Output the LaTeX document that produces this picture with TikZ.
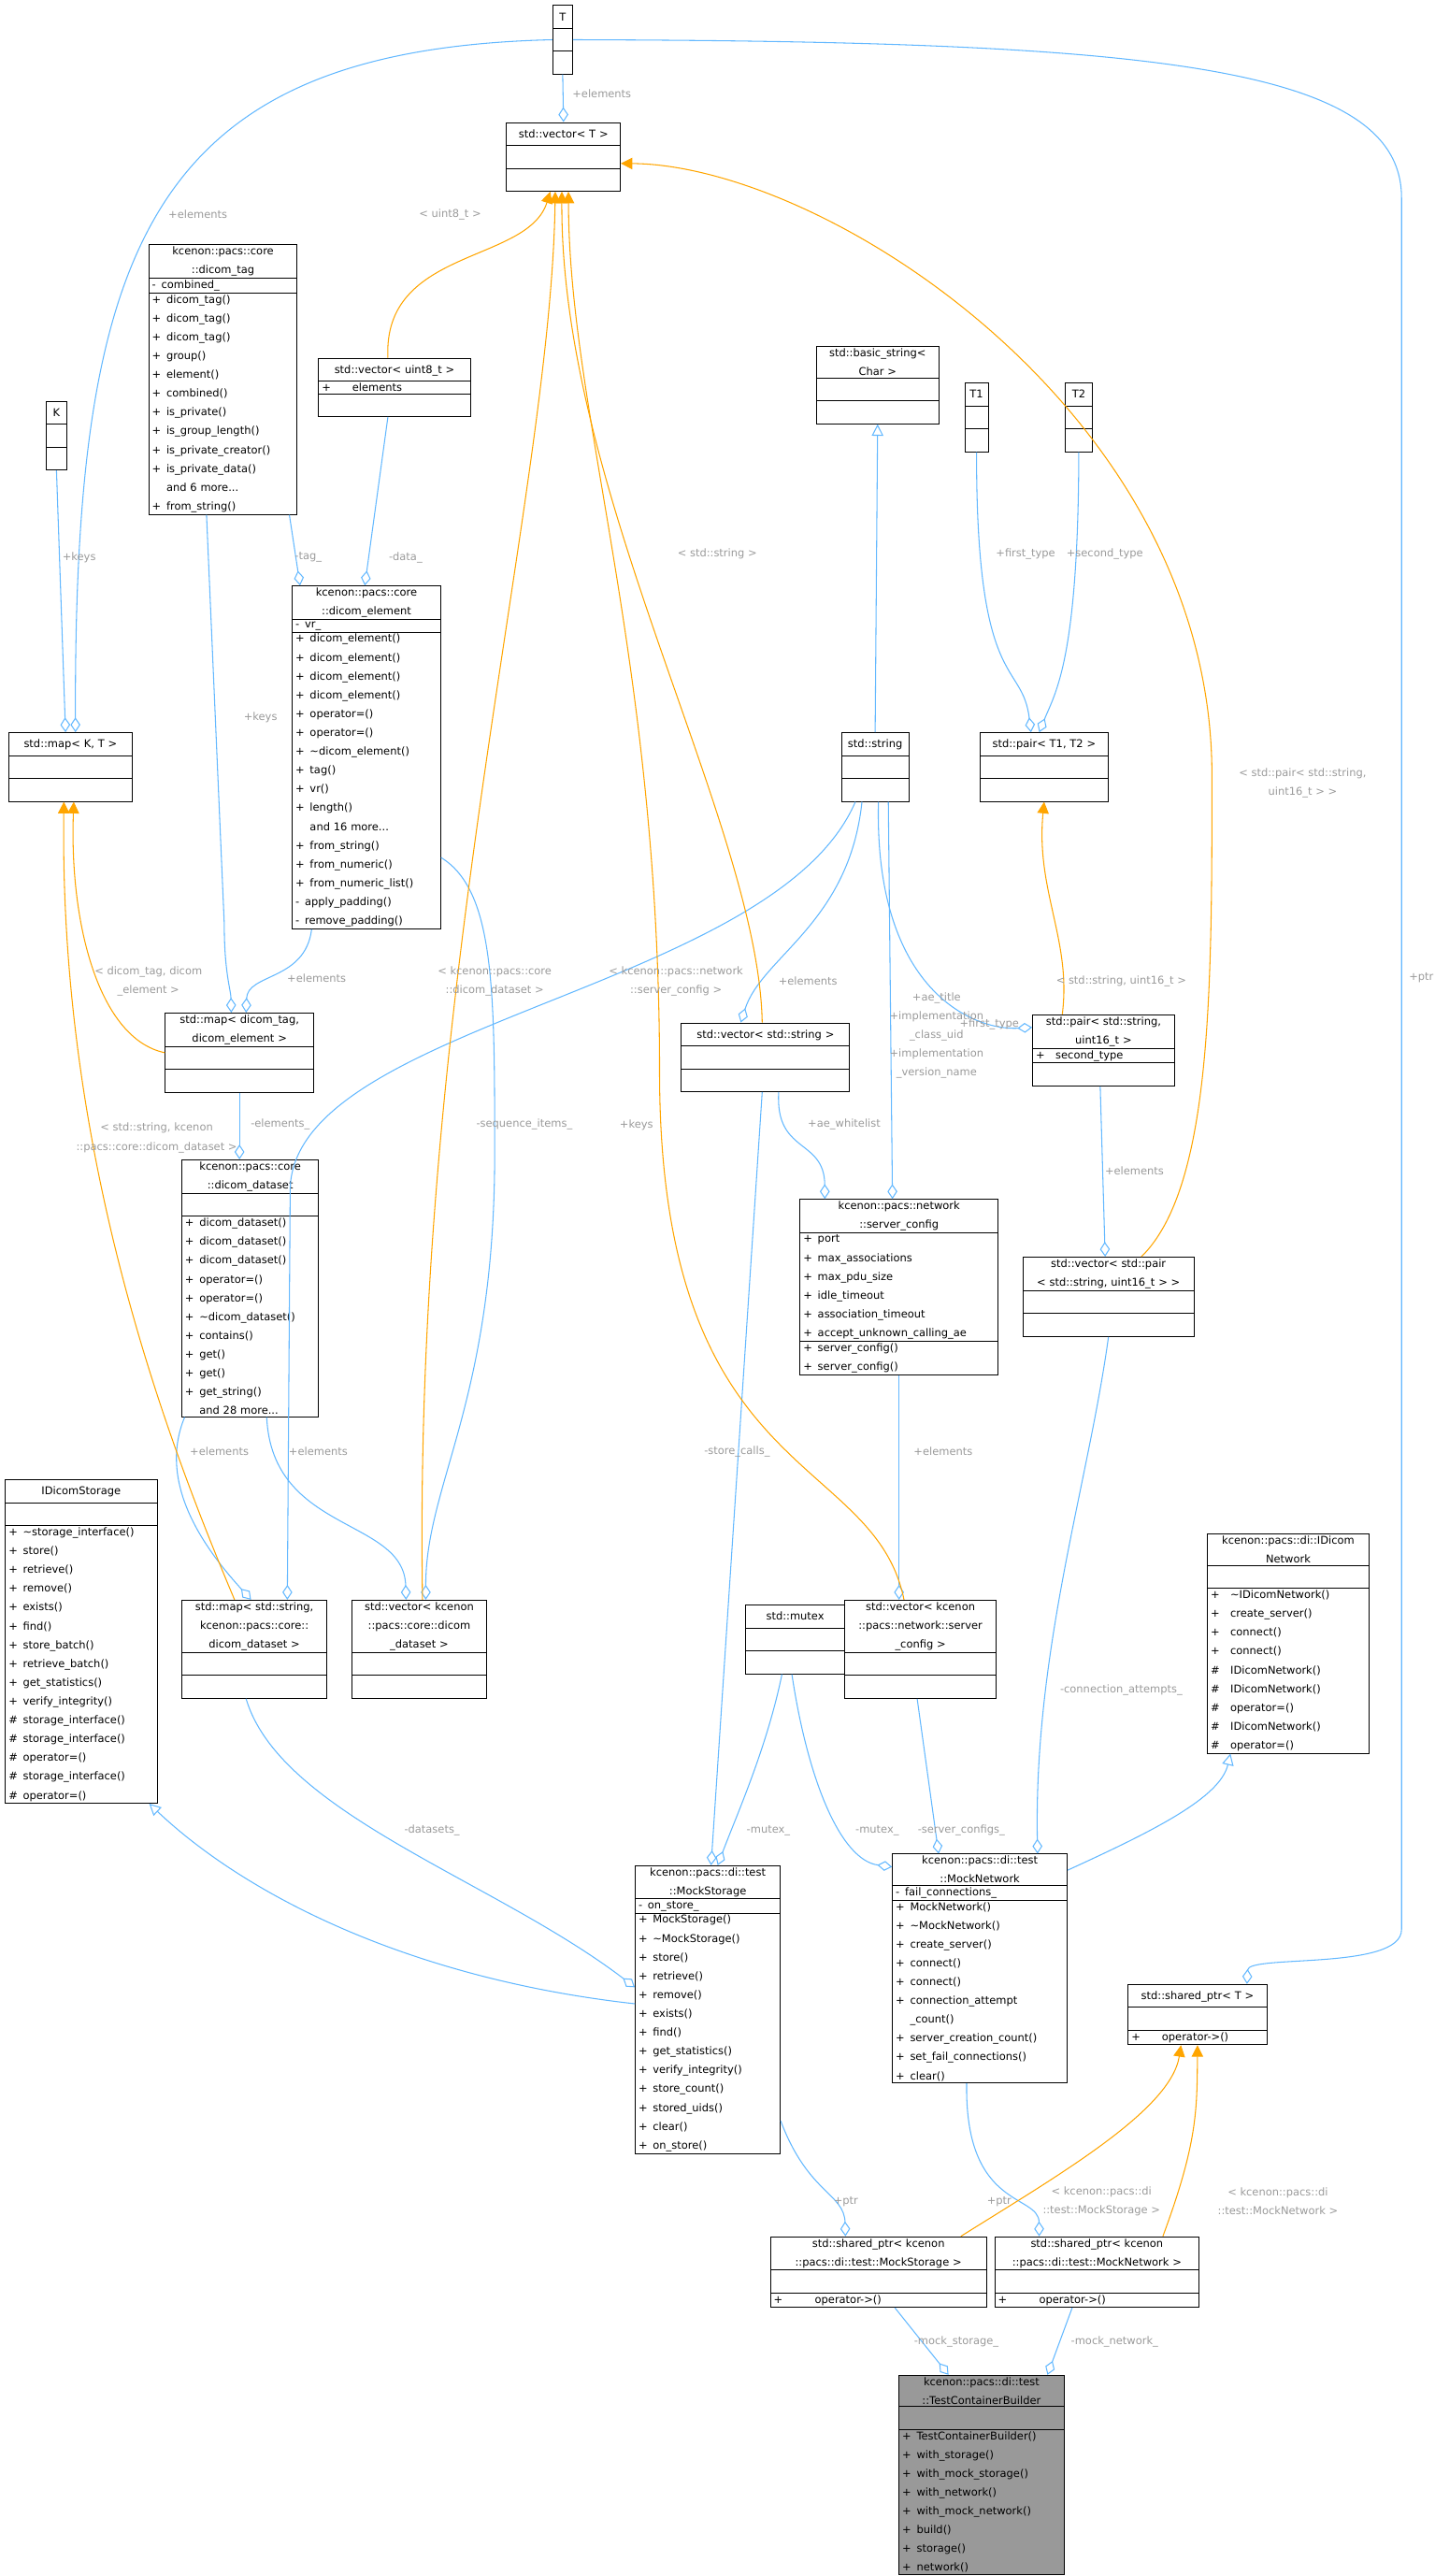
\documentclass[tikz,border=0pt]{standalone}
\usepackage{fontspec}
\setmainfont{DejaVu Sans}
\usetikzlibrary{shapes.multipart, arrows.meta, positioning}
\definecolor{edgeblue}{HTML}{63B8FF}
\definecolor{edgeorange}{HTML}{FFA500}
\definecolor{lblgray}{HTML}{9A9A9A}
\definecolor{boxgray}{HTML}{999999}
\newcommand{\dxfont}{\fontsize{6.5}{11.4}\selectfont}
\tikzset{
	x=1pt, y=-1pt,
	cls/.style={draw, line width=0.5pt, rectangle split, rectangle split parts=3,
		anchor=north west, inner xsep=2pt, inner ysep=1pt, font=\dxfont, fill=white},
	agg/.style={draw=edgeblue, line width=0.6pt, -{Diamond[open,length=9pt,width=6pt]}},
	inh/.style={draw=edgeblue, line width=0.6pt, -{Triangle[open,length=7pt,width=7pt]}},
	tmpl/.style={draw=edgeorange, line width=0.6pt, -{Triangle[length=7pt,width=7pt]}},
	lbl/.style={font=\dxfont, text=lblgray, align=center, inner sep=1pt}
}
\begin{document}
\begin{tikzpicture}
	\useasboundingbox (0,0) rectangle (870,1562);
	
	% Top row
	\node[cls, text width=8pt] (T) at (335,3) {\centering\strut T\par\nodepart{two}\strut\nodepart{three}\strut};
	\node[cls, text width=65pt] (vecT) at (307,74) {\centering\strut std::vector< T >\par\nodepart{two}\strut\nodepart{three}\strut};
	\node[cls, text width=8pt] (K) at (28,243) {\centering\strut K\par\nodepart{two}\strut\nodepart{three}\strut};
	\node[cls, text width=71pt] (mapKT) at (5,444) {\centering\strut std::map< K, T >\par\nodepart{two}\strut\nodepart{three}\strut};
	
	% dicom core
	\node[cls, text width=86pt] (dtag) at (90,148) {\centering kcenon::pacs::core\\::dicom\_tag\par
		\nodepart{two}\raggedright -\enspace combined\_
		\nodepart{three}\raggedright +\enspace dicom\_tag()\\+\enspace dicom\_tag()\\+\enspace dicom\_tag()\\+\enspace group()\\+\enspace element()\\+\enspace combined()\\+\enspace is\_private()\\+\enspace is\_group\_length()\\+\enspace is\_private\_creator()\\+\enspace is\_private\_data()\\\phantom{+}\enspace and 6 more...\\+\enspace from\_string()};
	\node[cls, text width=88pt] (vec8) at (193,217) {\centering\strut std::vector< uint8\_t >\par
		\nodepart{two}\raggedright +\qquad elements\nodepart{three}\strut};
	\node[cls, text width=86pt] (delem) at (177,355) {\centering kcenon::pacs::core\\::dicom\_element\par
		\nodepart{two}\raggedright -\enspace vr\_
		\nodepart{three}\raggedright +\enspace dicom\_element()\\+\enspace dicom\_element()\\+\enspace dicom\_element()\\+\enspace dicom\_element()\\+\enspace operator=()\\+\enspace operator=()\\+\enspace \textasciitilde dicom\_element()\\+\enspace tag()\\+\enspace vr()\\+\enspace length()\\\phantom{+}\enspace and 16 more...\\+\enspace from\_string()\\+\enspace from\_numeric()\\+\enspace from\_numeric\_list()\\-\enspace apply\_padding()\\-\enspace remove\_padding()};
	\node[cls, text width=86pt] (mapDT) at (100,614) {\centering std::map< dicom\_tag,\\dicom\_element >\par\nodepart{two}\strut\nodepart{three}\strut};
	\node[cls, text width=79pt] (dset) at (110,703) {\centering kcenon::pacs::core\\::dicom\_dataset\par
		\nodepart{two}\strut
		\nodepart{three}\raggedright +\enspace dicom\_dataset()\\+\enspace dicom\_dataset()\\+\enspace dicom\_dataset()\\+\enspace operator=()\\+\enspace operator=()\\+\enspace \textasciitilde dicom\_dataset()\\+\enspace contains()\\+\enspace get()\\+\enspace get()\\+\enspace get\_string()\\\phantom{+}\enspace and 28 more...};
	
	% strings and pairs
	\node[cls, text width=70pt] (bstr) at (495,210) {\centering std::basic\_string<\\Char >\par\nodepart{two}\strut\nodepart{three}\strut};
	\node[cls, text width=10pt] (T1) at (585,232) {\centering\strut T1\par\nodepart{two}\strut\nodepart{three}\strut};
	\node[cls, text width=12pt] (T2) at (646,232) {\centering\strut T2\par\nodepart{two}\strut\nodepart{three}\strut};
	\node[cls, text width=37pt] (str) at (510,444) {\centering\strut std::string\par\nodepart{two}\strut\nodepart{three}\strut};
	\node[cls, text width=74pt] (pairT) at (594,444) {\centering\strut std::pair< T1, T2 >\par\nodepart{two}\strut\nodepart{three}\strut};
	\node[cls, text width=98pt] (vecS) at (413,620) {\centering\strut std::vector< std::string >\par\nodepart{two}\strut\nodepart{three}\strut};
	\node[cls, text width=82pt] (pairSU) at (626,615) {\centering std::pair< std::string,\\uint16\_t >\par
		\nodepart{two}\raggedright +\quad second\_type\nodepart{three}\strut};
	\node[cls, text width=116pt] (scfg) at (485,727) {\centering kcenon::pacs::network\\::server\_config\par
		\nodepart{two}\raggedright +\enspace port\\+\enspace max\_associations\\+\enspace max\_pdu\_size\\+\enspace idle\_timeout\\+\enspace association\_timeout\\+\enspace accept\_unknown\_calling\_ae
		\nodepart{three}\raggedright +\enspace server\_config()\\+\enspace server\_config()};
	\node[cls, text width=100pt] (vecPair) at (620,762) {\centering std::vector< std::pair\\< std::string, uint16\_t > >\par\nodepart{two}\strut\nodepart{three}\strut};
	
	% interfaces and containers
	\node[cls, text width=88pt] (istor) at (3,897) {\centering\strut IDicomStorage\par
		\nodepart{two}\strut
		\nodepart{three}\raggedright +\enspace \textasciitilde storage\_interface()\\+\enspace store()\\+\enspace retrieve()\\+\enspace remove()\\+\enspace exists()\\+\enspace find()\\+\enspace store\_batch()\\+\enspace retrieve\_batch()\\+\enspace get\_statistics()\\+\enspace verify\_integrity()\\\#\enspace storage\_interface()\\\#\enspace storage\_interface()\\\#\enspace operator=()\\\#\enspace storage\_interface()\\\#\enspace operator=()};
	\node[cls, text width=84pt] (mapSD) at (110,970) {\centering std::map< std::string,\\kcenon::pacs::core::\\dicom\_dataset >\par\nodepart{two}\strut\nodepart{three}\strut};
	\node[cls, text width=78pt] (vecDS) at (213,970) {\centering std::vector< kcenon\\::pacs::core::dicom\\\_dataset >\par\nodepart{two}\strut\nodepart{three}\strut};
	\node[cls, text width=56pt] (mtx) at (452,973) {\centering\strut std::mutex\par\nodepart{two}\strut\nodepart{three}\strut};
	\node[cls, text width=88pt] (vecSC) at (512,970) {\centering std::vector< kcenon\\::pacs::network::server\\\_config >\par\nodepart{two}\strut\nodepart{three}\strut};
	\node[cls, text width=94pt] (inet) at (732,930) {\centering kcenon::pacs::di::IDicom\\Network\par
		\nodepart{two}\strut
		\nodepart{three}\raggedright +\quad \textasciitilde IDicomNetwork()\\+\quad create\_server()\\+\quad connect()\\+\quad connect()\\\#\quad IDicomNetwork()\\\#\quad IDicomNetwork()\\\#\quad operator=()\\\#\quad IDicomNetwork()\\\#\quad operator=()};
	
	% mocks
	\node[cls, text width=84pt] (mstor) at (385,1131) {\centering kcenon::pacs::di::test\\::MockStorage\par
		\nodepart{two}\raggedright -\enspace on\_store\_
		\nodepart{three}\raggedright +\enspace MockStorage()\\+\enspace \textasciitilde MockStorage()\\+\enspace store()\\+\enspace retrieve()\\+\enspace remove()\\+\enspace exists()\\+\enspace find()\\+\enspace get\_statistics()\\+\enspace verify\_integrity()\\+\enspace store\_count()\\+\enspace stored\_uids()\\+\enspace clear()\\+\enspace on\_store()};
	\node[cls, text width=102pt] (mnet) at (541,1124) {\centering kcenon::pacs::di::test\\::MockNetwork\par
		\nodepart{two}\raggedright -\enspace fail\_connections\_
		\nodepart{three}\raggedright +\enspace MockNetwork()\\+\enspace \textasciitilde MockNetwork()\\+\enspace create\_server()\\+\enspace connect()\\+\enspace connect()\\+\enspace connection\_attempt\\\phantom{+}\enspace \_count()\\+\enspace server\_creation\_count()\\+\enspace set\_fail\_connections()\\+\enspace clear()};
	\node[cls, text width=80pt] (shT) at (684,1203) {\centering\strut std::shared\_ptr< T >\par
		\nodepart{two}\strut\nodepart{three}\raggedright +\qquad operator->()};
	\node[cls, text width=127pt] (shMS) at (467,1356) {\centering std::shared\_ptr< kcenon\\::pacs::di::test::MockStorage >\par
		\nodepart{two}\strut\nodepart{three}\raggedright +\qquad\quad operator->()};
	\node[cls, text width=120pt] (shMN) at (603,1356) {\centering std::shared\_ptr< kcenon\\::pacs::di::test::MockNetwork >\par
		\nodepart{two}\strut\nodepart{three}\raggedright +\qquad\quad operator->()};
	\node[cls, text width=96pt, fill=boxgray] (bld) at (545,1440) {\centering kcenon::pacs::di::test\\::TestContainerBuilder\par
		\nodepart{two}\strut
		\nodepart{three}\raggedright +\enspace TestContainerBuilder()\\+\enspace with\_storage()\\+\enspace with\_mock\_storage()\\+\enspace with\_network()\\+\enspace with\_mock\_network()\\+\enspace build()\\+\enspace storage()\\+\enspace network()};
	
	% member edges
	\draw[agg] (T.south) -- (vecT.north) node[lbl, at={(365,57)}] {+elements};
	\draw[agg] (T.west) .. controls (90,30) and (45,150) .. ([xshift=3pt]mapKT.north) node[lbl, at={(120,130)}] {+elements};
	\draw[agg] (K.south) -- ([xshift=-3pt]mapKT.north) node[lbl, at={(48,338)}] {+keys};
	\draw[agg] (T.east) .. controls (700,25) and (850,40) .. (850,120) -- (850,1170) .. controls (850,1195) and (757,1185) .. ([xshift=30pt]shT.north) node[lbl, at={(862,593)}] {+ptr};
	\draw[agg] ([xshift=-4pt]vec8.south) -- ([xshift=-1pt]delem.north) node[lbl, at={(246,338)}] {-data\_};
	\draw[agg] ([xshift=-5pt]dtag.south east) -- ([xshift=5pt]delem.north west) node[lbl, at={(187,338)}] {-tag\_};
	\draw[agg] ([xshift=-10pt]dtag.south) -- (136,560) .. controls (136,590) and (140,600) .. ([xshift=-5pt]mapDT.north) node[lbl, at={(158,435)}] {+keys};
	\draw[agg] ([xshift=12pt]delem.south west) .. controls (185,595) and (150,590) .. ([xshift=4pt]mapDT.north) node[lbl, at={(192,593)}] {+elements};
	\draw[agg] (delem.east |- 0,520) .. controls (300,540) and (300,600) .. (300,700) .. controls (300,850) and (258,900) .. ([xshift=4pt]vecDS.north) node[lbl, at={(318,682)}] {-sequence\_items\_};
	\draw[agg] (mapDT.south) -- (mapDT.south |- dset.north) node[lbl, at={(170,682)}] {-elements\_};
	\draw[agg] ([xshift=2pt]dset.south west) .. controls (95,900) and (125,940) .. ([xshift=-2pt]mapSD.north) node[lbl, at={(133,880)}] {+elements};
	\draw[agg] ([xshift=10pt]dset.south) .. controls (165,930) and (245,920) .. ([xshift=-8pt]vecDS.north) node[lbl, at={(193,880)}] {+elements};
	\draw[agg] (T1.south) .. controls (592,420) and (620,400) .. ([xshift=-8pt]pairT.north) node[lbl, at={(622,336)}] {+first\_type};
	\draw[agg] (T2.south) .. controls (654,400) and (640,420) .. ([xshift=-3pt]pairT.north) node[lbl, at={(670,336)}] {+second\_type};
	\draw[agg] ([xshift=-8pt]str.south) .. controls (515,560) and (462,580) .. ([xshift=-15pt]vecS.north) node[lbl, at={(490,595)}] {+elements};
	\draw[agg] ([xshift=2pt]str.south) .. controls (530,600) and (590,625) .. ([yshift=-8pt]pairSU.north west) node[lbl, at={(600,621)}] {+first\_type};
	\draw[agg] ([xshift=8pt]str.south) -- ([xshift=-4pt]scfg.north) node[lbl, at={(568,628)}] {+ae\_title\\+implementation\\\_class\_uid\\+implementation\\\_version\_name};
	\draw[agg] ([xshift=-12pt]str.south) .. controls (470,600) and (180,620) .. (176,720) -- ([xshift=20pt]mapSD.north) node[lbl, at={(386,682)}] {+keys};
	\draw[agg] ([xshift=8pt]vecS.south) .. controls (470,700) and (500,690) .. ([xshift=-45pt]scfg.north) node[lbl, at={(512,682)}] {+ae\_whitelist};
	\draw[agg] ([xshift=-2pt]vecS.south) -- ([xshift=2pt]mstor.north) node[lbl, at={(447,880)}] {-store\_calls\_};
	\draw[agg] ([xshift=-2pt]pairSU.south) -- ([xshift=-2pt]vecPair.north) node[lbl, at={(688,710)}] {+elements};
	\draw[agg] (vecPair.south) .. controls (660,900) and (627,1000) .. ([xshift=35pt]mnet.north) node[lbl, at={(680,1025)}] {-connection\_attempts\_};
	\draw[agg] (scfg.south) -- (scfg.south |- vecSC.north) node[lbl, at={(572,880)}] {+elements};
	\draw[agg] ([xshift=-5pt]mapSD.south) .. controls (170,1100) and (300,1140) .. (mstor.west |- 0,1205) node[lbl, at={(262,1110)}] {-datasets\_};
	\draw[agg] ([xshift=-8pt]mtx.south) .. controls (465,1060) and (447,1100) .. ([xshift=6pt]mstor.north) node[lbl, at={(466,1110)}] {-mutex\_};
	\draw[agg] ([xshift=-2pt]mtx.south) .. controls (490,1080) and (510,1128) .. ([yshift=-8pt]mnet.north west) node[lbl, at={(532,1110)}] {-mutex\_};
	\draw[agg] ([xshift=-2pt]vecSC.south) -- ([xshift=-25pt]mnet.north) node[lbl, at={(583,1110)}] {-server\_configs\_};
	\draw[agg] ([yshift=20pt]mstor.south east) .. controls (490,1330) and (512,1330) .. ([xshift=-20pt]shMS.north) node[lbl, at={(513,1335)}] {+ptr};
	\draw[agg] ([xshift=-8pt]mnet.south) .. controls (585,1340) and (630,1330) .. ([xshift=-35pt]shMN.north) node[lbl, at={(606,1335)}] {+ptr};
	\draw[agg] ([xshift=10pt]shMS.south) -- ([xshift=-20pt]bld.north) node[lbl, at={(580,1420)}] {-mock\_storage\_};
	\draw[agg] ([xshift=-15pt]shMN.south) -- ([xshift=40pt]bld.north) node[lbl, at={(676,1420)}] {-mock\_network\_};
	
	% inheritance
	\draw[inh] (str.north) -- (bstr.south);
	\draw[inh] (mstor.west |- 0,1215) .. controls (250,1200) and (150,1150) .. ([xshift=-5pt]istor.south east);
	\draw[inh] ([yshift=-10pt]mnet.north east) .. controls (700,1110) and (740,1090) .. ([xshift=-35pt]inet.south);
	
	% template instances
	\draw[tmpl] ([xshift=-4pt]vec8.north) .. controls (232,150) and (320,160) .. ([xshift=-8pt]vecT.south) node[lbl, at={(273,130)}] {< uint8\_t >};
	\draw[tmpl] ([xshift=-2pt]vecS.north) .. controls (460,500) and (340,300) .. ([xshift=-1pt]vecT.south) node[lbl, at={(435,336)}] {< std::string >};
	\draw[tmpl] ([xshift=2pt]vecDS.north) .. controls (250,600) and (334,300) .. ([xshift=-5pt]vecT.south) node[lbl, at={(300,595)}] {< kcenon::pacs::core\\::dicom\_dataset >};
	\draw[tmpl] ([xshift=-10pt]vecSC.north) .. controls (530,880) and (400,900) .. (400,650) .. controls (400,400) and (345,250) .. ([xshift=3pt]vecT.south) node[lbl, at={(410,595)}] {< kcenon::pacs::network\\::server\_config >};
	\draw[tmpl] ([xshift=20pt]vecPair.north) .. controls (735,720) and (735,600) .. (735,470) .. controls (735,250) and (500,100) .. ([yshift=-4pt]vecT.east) node[lbl, at={(790,475)}] {< std::pair< std::string,\\uint16\_t > >};
	\draw[tmpl] (mapDT.west) .. controls (60,630) and (42,560) .. ([xshift=2pt]mapKT.south) node[lbl, at={(90,595)}] {< dicom\_tag, dicom\\\_element >};
	\draw[tmpl] ([xshift=-12pt]mapSD.north) .. controls (100,870) and (36,700) .. ([xshift=-4pt]mapKT.south) node[lbl, at={(95,690)}] {< std::string, kcenon\\::pacs::core::dicom\_dataset >};
	\draw[tmpl] ([xshift=-25pt]pairSU.north) .. controls (650,570) and (628,540) .. (pairT.south) node[lbl, at={(680,595)}] {< std::string, uint16\_t >};
	\draw[tmpl] ([xshift=50pt]shMS.north) .. controls (640,1320) and (710,1280) .. ([xshift=-10pt]shT.south) node[lbl, at={(668,1335)}] {< kcenon::pacs::di\\::test::MockStorage >};
	\draw[tmpl] ([xshift=40pt]shMN.north) .. controls (726,1300) and (726,1280) .. (shT.south) node[lbl, at={(775,1335)}] {< kcenon::pacs::di\\::test::MockNetwork >};
\end{tikzpicture}
\end{document}
